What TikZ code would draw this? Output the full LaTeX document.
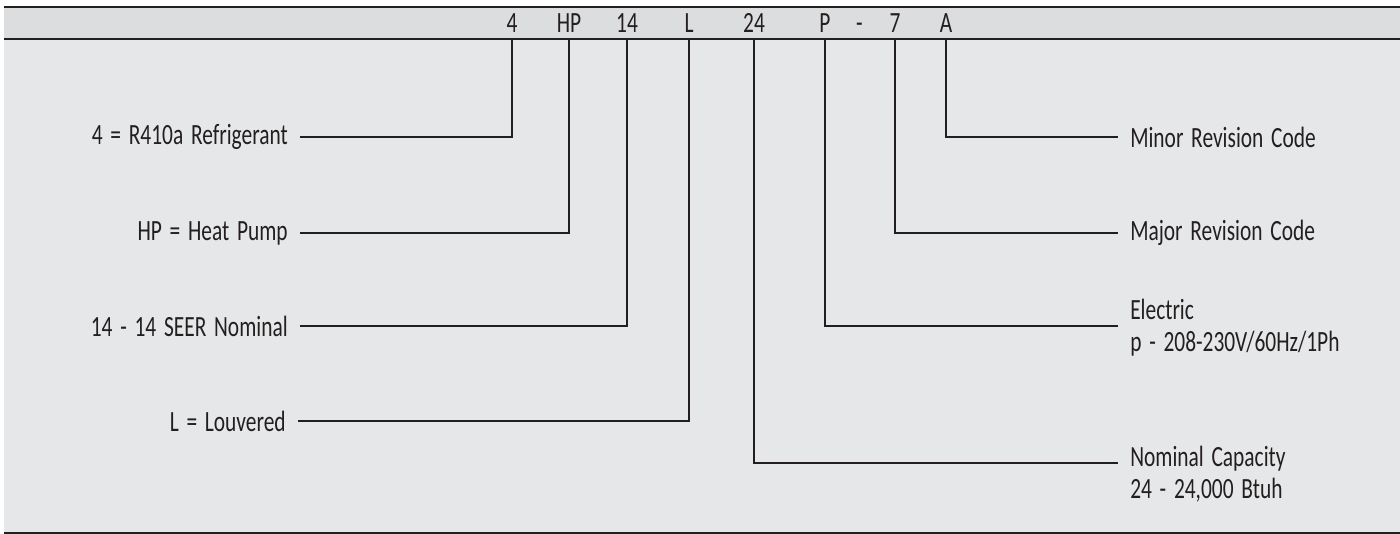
\documentclass[tikz,border=0pt]{standalone}
\usepackage{fontspec}
\setmainfont{Carlito}[FakeStretch=0.73, WordSpace=1.6]
\usepackage{tikz}
\definecolor{bandgray}{RGB}{220,221,223}
\definecolor{bodygray}{RGB}{230,231,232}
\definecolor{inkgray}{RGB}{35,31,32}

\begin{document}
\begin{tikzpicture}[x=0.75pt, y=-0.75pt,
  code/.style={inner sep=0, anchor=base, text=inkgray, font=\fontsize{22}{24}\selectfont},
  lbl/.style={inner sep=0, text=inkgray, font=\fontsize{22}{24}\selectfont, align=left},
  lead/.style={draw=inkgray, line width=1.5pt}]
  \useasboundingbox (0,0) rectangle (1400,534);
  % background and rules
  \fill[bodygray] (4,39) rectangle (1400,533);
  \fill[bandgray] (4,7) rectangle (1400,39);
  \draw[lead] (4,7) -- (1400,7);
  \draw[lead] (4,39.5) -- (1400,39.5);
  \draw[lead] (4,533) -- (1400,533);
  \coordinate (band) at (0,40);

  % model number
  \node[code] (c4)   at (512,33)   {4};
  \node[code] (cHP)  at (569,33)   {HP};
  \node[code] (c14)  at (627,33)   {14};
  \node[code] (cL)   at (689,33)   {L};
  \node[code] (c24)  at (754,33)   {24};
  \node[code] (cP)   at (825,33)   {P};
  \node[code] (cdash) at (859.5,33) {-};
  \node[code] (c7)   at (895,33)   {7};
  \node[code] (cA)   at (946,33)   {A};

  % left labels
  \node[lbl, anchor=east] (l4)  at (288,137) {4 = R410a Refrigerant};
  \node[lbl, anchor=east] (lHP) at (288,233) {HP = Heat Pump};
  \node[lbl, anchor=east] (l14) at (288,326) {14 - 14 SEER Nominal};
  \node[lbl, anchor=east] (lL)  at (286,421) {L = Louvered};

  % right labels
  \node[lbl, anchor=west] (lA)   at (1130,137) {Minor Revision Code};
  \node[lbl, anchor=west] (l7)   at (1130,233) {Major Revision Code};
  \node[lbl, anchor=west] (lP)   at (1130,328) {Electric\\p - 208-230V/60Hz/1Ph};
  \node[lbl, anchor=west] (lcap) at (1130,474) {Nominal Capacity\\24 - 24,000 Btuh};

  % leaders
  \draw[lead, shorten >=9pt] (c4 |- band) |- (l4.east);
  \draw[lead, shorten >=9pt] (cHP |- band) |- (lHP.east);
  \draw[lead, shorten >=9pt] (c14 |- band) |- (l14.east);
  \draw[lead, shorten >=9pt] (cL |- band) |- (lL.east);
  \draw[lead, shorten >=9pt] (cA |- band) |- (lA.west);
  \draw[lead, shorten >=9pt] (c7 |- band) |- (l7.west);
  \draw[lead, shorten >=9pt] (cP |- band) |- ([yshift=1.5pt]lP.west);
  \draw[lead, shorten >=9pt] (c24 |- band) |- ([yshift=8pt]lcap.west);
\end{tikzpicture}
\end{document}
